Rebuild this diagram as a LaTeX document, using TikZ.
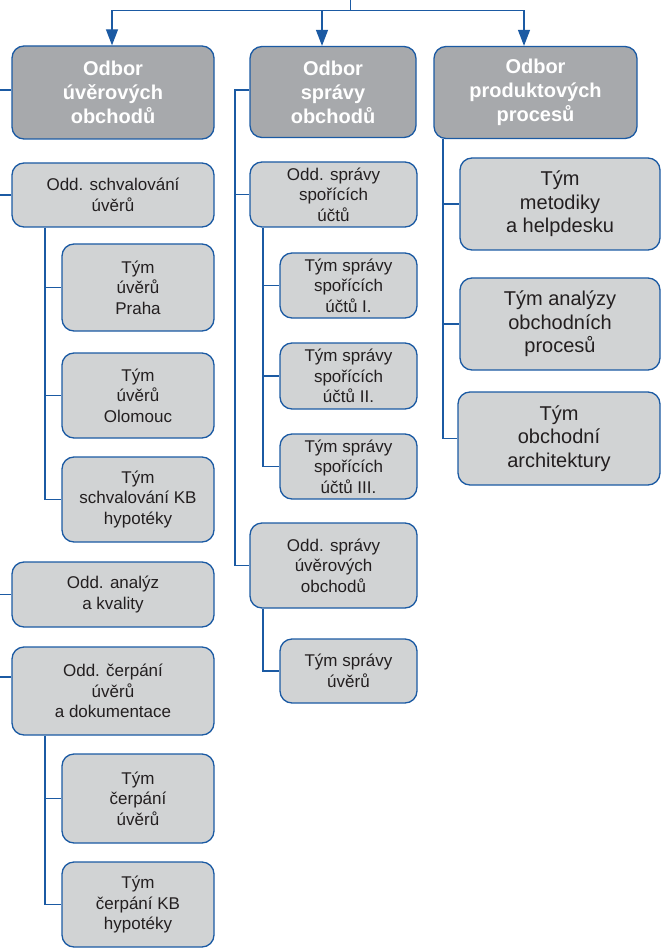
\documentclass[tikz,border=0pt]{standalone}
\usepackage{fontspec}
\setmainfont{Liberation Sans}
\usetikzlibrary{arrows.meta}
\definecolor{lblue}{HTML}{1B5AA3}
\definecolor{boxfill}{HTML}{D1D3D4}
\definecolor{topfill}{HTML}{A7A9AC}
\definecolor{txt}{HTML}{231F20}
\begin{document}
\begin{tikzpicture}[x=1pt,y=-1pt,
 conn/.style={draw=lblue, line width=1.3pt},
 arr/.style={-{Triangle[length=16pt,width=12pt]}},
 box/.style={draw=lblue, line width=1.3pt, fill=boxfill, rounded corners=12pt, inner sep=0pt, align=center, text=txt, font=\fontsize{17}{20.5}\selectfont},
 topbox/.style={box, fill=topfill, text=white, font=\fontsize{20}{24}\selectfont\bfseries},
 bigbox/.style={box, font=\fontsize{20}{23.5}\selectfont}]
\useasboundingbox (0,0) rectangle (661,949);

% top level
\node[topbox, minimum width=202pt, minimum height=93pt] (A) at (113,92.5) {Odbor\\úvěrových\\obchodů};
\node[topbox, minimum width=166pt, minimum height=91pt] (B) at (333,92) {Odbor\\správy\\obchodů};
\node[topbox, minimum width=203pt, minimum height=92pt] (C) at (535.5,92.5) {Odbor\\produktových\\procesů};

% left column
\node[box, minimum width=202pt, minimum height=64pt] (S1) at (113,195) {Odd. schvalování\\úvěrů};
\node[box, minimum width=152pt, minimum height=87pt] (P1) at (138,287.5) {Tým\\úvěrů\\Praha};
\node[box, minimum width=152pt, minimum height=85pt] (P2) at (138,395.5) {Tým\\úvěrů\\Olomouc};
\node[box, minimum width=152pt, minimum height=85pt] (P3) at (138,499.5) {Tým\\schvalování KB\\hypotéky};
\node[box, minimum width=202pt, minimum height=65pt] (S2) at (113,594.5) {Odd. analýz\\a kvality};
\node[box, minimum width=202pt, minimum height=88pt] (S3) at (113,691) {Odd. čerpání\\úvěrů\\a dokumentace};
\node[box, minimum width=152pt, minimum height=89pt] (P4) at (138,798.5) {Tým\\čerpání\\úvěrů};
\node[box, minimum width=152pt, minimum height=85pt] (P5) at (138,904.5) {Tým\\čerpání KB\\hypotéky};

% middle column
\node[box, minimum width=167pt, minimum height=65pt] (M1) at (333.5,194.5) {Odd. správy\\spořících\\účtů};
\node[box, minimum width=137pt, minimum height=65pt] (M2) at (348.5,285.5) {Tým správy\\spořících\\účtů I.};
\node[box, minimum width=137pt, minimum height=66pt] (M3) at (348.5,376) {Tým správy\\spořících\\účtů II.};
\node[box, minimum width=137pt, minimum height=65pt] (M4) at (348.5,466.5) {Tým správy\\spořících\\účtů III.};
\node[box, minimum width=167pt, minimum height=85pt] (M5) at (333.5,565.5) {Odd. správy\\úvěrových\\obchodů};
\node[box, minimum width=137pt, minimum height=64pt] (M6) at (348.5,671) {Tým správy\\úvěrů};

% right column
\node[bigbox, minimum width=200pt, minimum height=92pt] (R1) at (560,204) {Tým\\metodiky\\a helpdesku};
\node[bigbox, minimum width=200pt, minimum height=92pt] (R2) at (560,324) {Tým analýzy\\obchodních\\procesů};
\node[bigbox, minimum width=202pt, minimum height=93pt] (R3) at (559,438.5) {Tým\\obchodní\\architektury};

% top connectors
\coordinate (top) at (350.5,0);
\coordinate (hub) at (350.5,10.5);
\draw[conn] (top) -- (hub);
\draw[conn,arr] (hub) -| ([xshift=-1pt]A.north);
\draw[conn,arr] (hub) -| ([xshift=-11pt]B.north);
\draw[conn,arr] (hub) -| ([xshift=-11.5pt]C.north);

% left stubs
\draw[conn] ([yshift=2.5pt]A.west) -- ++(-13,0);
\draw[conn] (S1.west) -- ++(-13,0);
\draw[conn] (S2.west) -- ++(-13,0);
\draw[conn] ([yshift=14pt]S3.west) -- ++(-13,0);

% left trunks
\coordinate (tl) at (45,0);
\draw[conn] (S1.south -| tl) |- (P3.west);
\draw[conn] (P1.west -| tl) -- (P1.west);
\draw[conn] (P2.west -| tl) -- (P2.west);
\draw[conn] (S3.south -| tl) |- (P5.west);
\draw[conn] (P4.west -| tl) -- (P4.west);

% middle trunks
\coordinate (tm) at (235,0);
\coordinate (tm2) at (263,0);
\draw[conn] ([yshift=2pt]B.west) -| (tm |- M5.west) -- (M5.west);
\draw[conn] (M1.west -| tm) -- (M1.west);
\draw[conn] (M1.south -| tm2) |- (M4.west);
\draw[conn] (M2.west -| tm2) -- (M2.west);
\draw[conn] (M3.west -| tm2) -- (M3.west);
\draw[conn] (M5.south -| tm2) |- (M6.west);

% right trunk
\coordinate (tr) at (443,0);
\draw[conn] (C.south -| tr) |- (R3.west);
\draw[conn] (R1.west -| tr) -- (R1.west);
\draw[conn] (R2.west -| tr) -- (R2.west);
\end{tikzpicture}
\end{document}
